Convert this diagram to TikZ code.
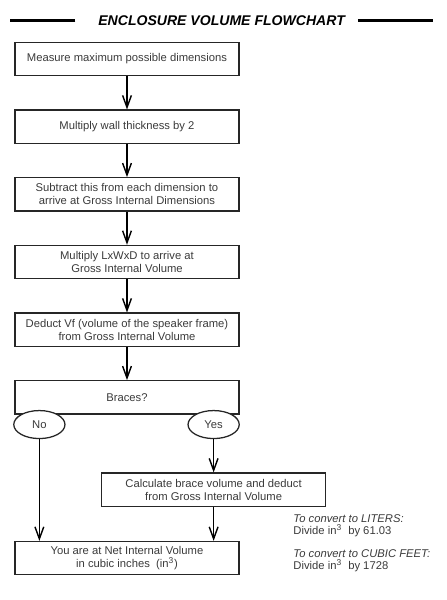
\documentclass[tikz,border=0pt]{standalone}
\usepackage{fontspec}
\setmainfont{Liberation Sans}
\usepackage{xcolor}
\usetikzlibrary{positioning,arrows.meta,shapes.geometric}
\definecolor{inkgray}{HTML}{3A3A3A}

\begin{document}
\begin{tikzpicture}[node distance=0.83cm, box/.style={draw=black!85,line width=0.9pt,align=center,minimum height=0.83cm,minimum width=5.6cm,inner sep=1pt,font=\fontsize{8}{9.2}\selectfont,text=inkgray}, yesno/.style={draw=black!85,line width=0.9pt,ellipse,fill=white,minimum width=1.28cm,minimum height=0.7cm,inner sep=0pt,font=\fontsize{8}{9.2}\selectfont,text=inkgray}, note/.style={align=left,inner sep=0pt,font=\fontsize{8}{8.5}\selectfont,text=inkgray}, bar/.style={line width=2.6pt}, flow/.style={->,line width=1pt}, >={Straight Barb[length=3mm,width=2.2mm]}]
\useasboundingbox (0,0) rectangle (11.175,-15);
\node[font=\fontsize{10}{12}\selectfont\bfseries\itshape] (title) at (5.54,-0.51) {ENCLOSURE VOLUME FLOWCHART};
\draw[bar] ([xshift=-0.45cm]title.west) -- ++(-1.63,0);
\draw[bar] ([xshift=0.2cm]title.east) -- ++(1.87,0);
\node[box] (measure) at (3.175,-1.475) {Measure maximum possible dimensions};
\node[box,below=of measure] (wall) {Multiply wall thickness by 2};
\node[box,below=of wall] (gross) {Subtract this from each dimension to\\arrive at Gross Internal Dimensions};
\node[box,below=of gross] (lwd) {Multiply LxWxD to arrive at\\Gross Internal Volume};
\node[box,below=of lwd] (frame) {Deduct Vf (volume of the speaker frame)\\from Gross Internal Volume};
\node[box,below=of frame] (braces) {Braces?};
\node[yesno] (no) at ([xshift=0.625cm,yshift=-0.25cm]braces.south west) {No};
\node[yesno] (yes) at ([xshift=-0.65cm,yshift=-0.25cm]braces.south east) {Yes};
\node[box,below=of yes] (calc) {Calculate brace volume and deduct\\from Gross Internal Volume};
\node[box,anchor=north] (net) at ([yshift=-0.85cm]calc.south -| braces.south) {You are at Net Internal Volume\\in cubic inches\ \ (in\textsuperscript{3})};
\draw[flow] (measure) -- (wall);
\draw[flow] (wall) -- (gross);
\draw[flow] (gross) -- (lwd);
\draw[flow] (lwd) -- (frame);
\draw[flow] (frame) -- (braces);
\draw[flow] (yes) -- (calc);
\draw[flow] (no) -- (no |- net.north);
\draw[flow] (calc.south) -- (calc.south |- net.north);
% conversion notes
\node[note,anchor=north west] (liters) at (7.33,-12.86) {\textit{To convert to LITERS:}\\Divide in\textsuperscript{3}\ \ by 61.03};
\node[note,below=0.3cm of liters.south west,anchor=north west] (feet) {\textit{To convert to CUBIC FEET:}\\Divide in\textsuperscript{3}\ \ by 1728};
\end{tikzpicture}
\end{document}
